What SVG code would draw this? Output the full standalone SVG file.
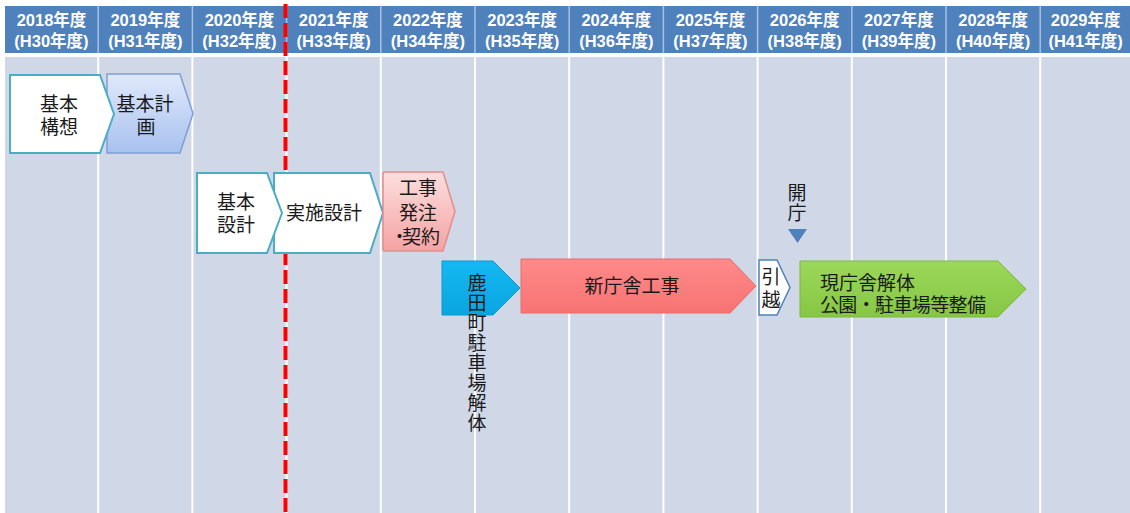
<svg xmlns="http://www.w3.org/2000/svg" width="1130" height="513" viewBox="0 0 1130 513">
<defs>
<linearGradient id="gBlue" x1="0" y1="0" x2="0" y2="1"><stop offset="0" stop-color="#e0e9fb"/><stop offset="1" stop-color="#a8c1ef"/></linearGradient>
<linearGradient id="gPink" x1="0" y1="0" x2="0" y2="1"><stop offset="0" stop-color="#fcdede"/><stop offset="1" stop-color="#f5a3a3"/></linearGradient>
<linearGradient id="gCyan" x1="0" y1="0" x2="0" y2="1"><stop offset="0" stop-color="#14b8f2"/><stop offset="1" stop-color="#0aa5e0"/></linearGradient>
<linearGradient id="gRed" x1="0" y1="0" x2="0" y2="1"><stop offset="0" stop-color="#ff8a8a"/><stop offset="1" stop-color="#f77373"/></linearGradient>
<linearGradient id="gGreen" x1="0" y1="0" x2="0" y2="1"><stop offset="0" stop-color="#9cd85a"/><stop offset="1" stop-color="#86c645"/></linearGradient>
</defs>
<style>
.hdr{font-family:"Liberation Sans","Noto Sans CJK JP",sans-serif;font-weight:bold;font-size:16.5px;fill:#ffffff;text-anchor:middle}
.t{font-family:"Noto Sans CJK JP","Noto Sans CJK SC",sans-serif;font-size:19px;fill:#1a1a1a;text-anchor:middle}
.tl{font-family:"Noto Sans CJK JP","Noto Sans CJK SC",sans-serif;font-size:19px;fill:#1a1a1a}
.tv{font-family:"Noto Sans CJK JP","Noto Sans CJK SC",sans-serif;font-size:19px;fill:#1a1a1a;writing-mode:vertical-rl;letter-spacing:1px}
.sep{stroke:#ffffff;stroke-width:2}
.hsep{stroke:#a9c0e0;stroke-width:1.5}
.white{fill:#ffffff;stroke:#4bacc6;stroke-width:2}
</style>
<g id="background">
<rect x="5" y="57" width="1125" height="456" fill="#d0d8e8"/>
<g>
<line class="sep" x1="98.2" y1="57" x2="98.2" y2="513"/>
<line class="sep" x1="192.4" y1="57" x2="192.4" y2="513"/>
<line class="sep" x1="286.6" y1="57" x2="286.6" y2="513"/>
<line class="sep" x1="380.8" y1="57" x2="380.8" y2="513"/>
<line class="sep" x1="475" y1="57" x2="475" y2="513"/>
<line class="sep" x1="569.2" y1="57" x2="569.2" y2="513"/>
<line class="sep" x1="663.4" y1="57" x2="663.4" y2="513"/>
<line class="sep" x1="757.6" y1="57" x2="757.6" y2="513"/>
<line class="sep" x1="851.8" y1="57" x2="851.8" y2="513"/>
<line class="sep" x1="946" y1="57" x2="946" y2="513"/>
<line class="sep" x1="1040.2" y1="57" x2="1040.2" y2="513"/>
</g>
</g>
<g id="header">
<rect x="5" y="6" width="1125" height="47" fill="#4f81bd"/>
<line class="hsep" x1="98.2" y1="6" x2="98.2" y2="53"/>
<line class="hsep" x1="192.4" y1="6" x2="192.4" y2="53"/>
<line class="hsep" x1="286.6" y1="6" x2="286.6" y2="53"/>
<line class="hsep" x1="380.8" y1="6" x2="380.8" y2="53"/>
<line class="hsep" x1="475" y1="6" x2="475" y2="53"/>
<line class="hsep" x1="569.2" y1="6" x2="569.2" y2="53"/>
<line class="hsep" x1="663.4" y1="6" x2="663.4" y2="53"/>
<line class="hsep" x1="757.6" y1="6" x2="757.6" y2="53"/>
<line class="hsep" x1="851.8" y1="6" x2="851.8" y2="53"/>
<line class="hsep" x1="946" y1="6" x2="946" y2="53"/>
<line class="hsep" x1="1040.2" y1="6" x2="1040.2" y2="53"/>
<text class="hdr" x="51.5" y="26">2018年度</text><text class="hdr" x="51.5" y="47">(H30年度)</text>
<text class="hdr" x="145.3" y="26">2019年度</text><text class="hdr" x="145.3" y="47">(H31年度)</text>
<text class="hdr" x="239.5" y="26">2020年度</text><text class="hdr" x="239.5" y="47">(H32年度)</text>
<text class="hdr" x="333.7" y="26">2021年度</text><text class="hdr" x="333.7" y="47">(H33年度)</text>
<text class="hdr" x="427.9" y="26">2022年度</text><text class="hdr" x="427.9" y="47">(H34年度)</text>
<text class="hdr" x="522.1" y="26">2023年度</text><text class="hdr" x="522.1" y="47">(H35年度)</text>
<text class="hdr" x="616.3" y="26">2024年度</text><text class="hdr" x="616.3" y="47">(H36年度)</text>
<text class="hdr" x="710.5" y="26">2025年度</text><text class="hdr" x="710.5" y="47">(H37年度)</text>
<text class="hdr" x="804.7" y="26">2026年度</text><text class="hdr" x="804.7" y="47">(H38年度)</text>
<text class="hdr" x="898.9" y="26">2027年度</text><text class="hdr" x="898.9" y="47">(H39年度)</text>
<text class="hdr" x="993.1" y="26">2028年度</text><text class="hdr" x="993.1" y="47">(H40年度)</text>
<text class="hdr" x="1085.6" y="26">2029年度</text><text class="hdr" x="1085.6" y="47">(H41年度)</text>
</g>
<g id="today-line">
<line x1="285.5" y1="4" x2="285.5" y2="513" stroke="#ff0000" stroke-width="4" stroke-dasharray="14 5"/>
</g>
<g id="node-kihonkeikaku">
<path d="M107,74 H180 L193,113.5 L180,153 H107 Z" fill="url(#gBlue)" stroke="#7f9fd3" stroke-width="1.5"/>
<text class="t" x="145" y="111">基本計</text>
<text class="t" x="146" y="134">画</text>
</g>
<g id="node-kihonkoso">
<path d="M10,75 H100 L114,114 L100,153 H10 Z" class="white"/>
<text class="t" x="59" y="111">基本</text>
<text class="t" x="59" y="134">構想</text>
</g>
<g id="node-jisshisekkei">
<path d="M274,173 H370 L383,213 L370,253 H274 Z" class="white"/>
<text class="t" x="324" y="220">実施設計</text>
</g>
<g id="node-kihonsekkei">
<path d="M197,173 H267 L282,213 L267,253 H197 Z" class="white"/>
<text class="t" x="236" y="209">基本</text>
<text class="t" x="236" y="232">設計</text>
</g>
<g id="node-kouji-hacchu">
<path d="M383,174 Q383,172 385,172 H443 L455,211.5 L443,251 H385 Q383,251 383,249 Z" fill="url(#gPink)" stroke="#e58c8c" stroke-width="1.5"/>
<text class="t" x="418" y="195">工事</text>
<text class="t" x="418" y="220">発注</text>
<text class="tl" x="390" y="244">・<tspan dx="-7">契約</tspan></text>
</g>
<g id="node-parking-demolition">
<path d="M442,261 H493 L520,288 L493,315 H442 Z" fill="url(#gCyan)" stroke="#0a9ad0" stroke-width="1"/>
<text class="tv" x="477" y="273">鹿田町駐車場解体</text>
</g>
<g id="node-shinchosha">
<path d="M521,259 H730 L756,286 L730,313 H521 Z" fill="url(#gRed)" stroke="#e86a6a" stroke-width="1"/>
<text class="t" x="632" y="293">新庁舎工事</text>
</g>
<g id="node-hikkoshi">
<path d="M759,260 H777 L790,287.5 L777,315 H759 Z" fill="#ffffff" stroke="#4f81bd" stroke-width="1.5"/>
<text class="t" x="771" y="284">引</text>
<text class="t" x="771" y="307">越</text>
</g>
<g id="node-kaicho">
<text class="tv" x="797" y="183">開庁</text>
<path d="M788,229 H807 L797.5,243 Z" fill="#4f81bd"/>
</g>
<g id="node-genchosha">
<path d="M800,261 H998 L1026,289 L998,317 H800 Z" fill="url(#gGreen)" stroke="#7cb83a" stroke-width="1"/>
<text class="tl" x="820" y="290">現庁舎解体</text>
<text class="tl" x="820" y="312" textLength="166" lengthAdjust="spacing">公園・駐車場等整備</text>
</g>
<g id="connectors"/>
</svg>
